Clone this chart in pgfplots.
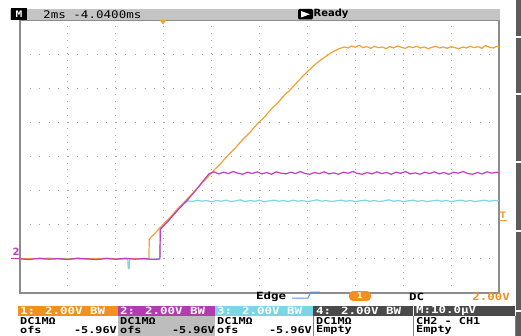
\documentclass[border=0pt]{standalone}
\usepackage{fontspec}
\usepackage{pgfplots}
\pgfplotsset{compat=1.18}
\setmainfont{DejaVu Sans}
\newfontfamily\scopeB[FakeStretch=1.25]{DejaVu Sans Mono}
\newfontfamily\scopeT[FakeStretch=1.2]{DejaVu Sans Mono}
\definecolor{orangeT}{HTML}{F5A035}
\definecolor{purpleT}{HTML}{C040C0}
\definecolor{cyanT}{HTML}{80D4E4}
\definecolor{boxA}{HTML}{F0901E}
\definecolor{boxB}{HTML}{B03CB0}
\definecolor{boxC}{HTML}{7AD6E6}
\definecolor{boxD}{HTML}{4A4A4A}
\definecolor{bargray}{HTML}{C4C4C4}
\definecolor{colgray}{HTML}{BDBDBD}
\definecolor{framegray}{HTML}{8C8C8C}
\definecolor{gridgray}{HTML}{A8A8A8}
\begin{document}
\begin{tikzpicture}
\useasboundingbox (-20bp,-43bp) rectangle (501bp,293bp);
\fill[white] (-20bp,-43bp) rectangle (501bp,293bp);
\begin{axis}[at={(0,0)}, anchor=south west, scale only axis,
  width=479bp, height=273bp,
  xmin=0, xmax=10, ymin=0, ymax=8,
  xtick={0,...,10}, ytick={0,...,8},
  xticklabels={}, yticklabels={},
  tick style={draw=none}, major tick length=0pt,
  grid=major,
  x grid style={draw=gridgray, line width=0.9bp, dash pattern=on 0.9bp off 5.92bp},
  y grid style={draw=gridgray, line width=0.9bp, dash pattern=on 0.9bp off 8.68bp},
  axis line style={draw=framegray, line width=1.2bp}]
% CH3 cyan
\addplot[cyanT, line width=1.2bp, no marks] coordinates {
(0,1.00) (0.3,1.01) (0.6,0.99) (0.9,1.01) (1.2,1.00) (1.5,0.99) (1.8,1.01) (2.1,1.00) (2.25,1.00)
(2.26,0.72) (2.28,0.72) (2.29,1.00) (2.5,1.00) (2.7,0.99) (2.92,1.00)
(2.93,1.87) (3.1,2.12) (3.3,2.44) (3.42,2.62) (3.52,2.70)
(3.6,2.68) (3.7,2.72) (3.8,2.69) (3.9,2.71) (4.0,2.67) (4.1,2.71) (4.2,2.69) (4.3,2.72) (4.4,2.68)
(4.5,2.70) (4.6,2.73) (4.7,2.68) (4.8,2.71) (4.9,2.69) (5.0,2.72) (5.1,2.67) (5.2,2.70) (5.3,2.72)
(5.4,2.69) (5.5,2.71) (5.6,2.68) (5.7,2.72) (5.8,2.69) (5.9,2.71) (6.0,2.68) (6.1,2.70) (6.2,2.73)
(6.3,2.69) (6.4,2.71) (6.5,2.68) (6.6,2.70) (6.7,2.72) (6.8,2.69) (6.9,2.71) (7.0,2.68) (7.1,2.70)
(7.2,2.72) (7.3,2.69) (7.4,2.71) (7.5,2.68) (7.6,2.70) (7.7,2.73) (7.8,2.69) (7.9,2.71) (8.0,2.68)
(8.1,2.70) (8.2,2.72) (8.3,2.69) (8.4,2.71) (8.5,2.68) (8.6,2.70) (8.7,2.72) (8.8,2.69) (8.9,2.71)
(9.0,2.68) (9.1,2.70) (9.2,2.72) (9.3,2.69) (9.4,2.71) (9.5,2.68) (9.6,2.70) (9.7,2.72) (9.8,2.69)
(9.9,2.71) (10,2.70)};
% CH1 orange
\addplot[orangeT, line width=1.2bp, no marks] coordinates {
(0,1.01) (0.3,1.00) (0.6,1.02) (0.9,0.99) (1.2,1.01) (1.5,1.00) (1.8,1.02) (2.1,0.99) (2.4,1.01) (2.69,1.00)
(2.70,1.58) (2.85,1.80) (3.0,2.03) (3.15,2.24) (3.3,2.49) (3.45,2.70) (3.61,2.93) (3.75,3.15)
(3.9,3.36) (4.05,3.60) (4.2,3.81) (4.35,4.05) (4.5,4.26) (4.65,4.50) (4.8,4.71) (4.95,4.95)
(5.1,5.15) (5.25,5.40) (5.4,5.60) (5.52,5.80) (5.64,5.95) (5.8,6.20) (5.95,6.42) (6.1,6.62)
(6.25,6.80) (6.4,6.95) (6.53,7.07) (6.65,7.15) (6.77,7.21)
(6.85,7.18) (6.92,7.24) (7.0,7.20) (7.08,7.26) (7.16,7.19) (7.24,7.22) (7.32,7.17) (7.40,7.23)
(7.48,7.19) (7.56,7.21) (7.64,7.16) (7.72,7.22) (7.80,7.18) (7.88,7.24) (7.96,7.20) (8.04,7.17)
(8.12,7.22) (8.20,7.19) (8.28,7.23) (8.36,7.18) (8.44,7.21) (8.52,7.16) (8.60,7.20) (8.68,7.23)
(8.76,7.18) (8.84,7.21) (8.92,7.17) (9.00,7.22) (9.08,7.19) (9.16,7.16) (9.24,7.21) (9.32,7.18)
(9.40,7.23) (9.48,7.19) (9.56,7.22) (9.64,7.17) (9.72,7.25) (9.80,7.20) (9.88,7.18) (9.96,7.23) (10,7.21)};
% CH2 purple
\addplot[purpleT, line width=1.2bp, no marks] coordinates {
(0,1.00) (0.2,0.98) (0.4,1.02) (0.6,0.99) (0.8,1.01) (1.0,0.98) (1.2,1.02) (1.4,1.00) (1.6,0.98)
(1.8,1.01) (2.0,0.99) (2.2,1.02) (2.4,0.99) (2.6,1.01) (2.8,0.98) (2.92,1.00)
(2.93,1.87) (3.1,2.12) (3.3,2.44) (3.5,2.73) (3.7,3.06) (3.82,3.28) (3.95,3.50)
(4.05,3.55) (4.15,3.49) (4.25,3.54) (4.35,3.50) (4.45,3.56) (4.55,3.51) (4.65,3.48) (4.75,3.54)
(4.85,3.50) (4.95,3.55) (5.05,3.49) (5.15,3.53) (5.25,3.48) (5.35,3.55) (5.45,3.51) (5.55,3.49)
(5.65,3.54) (5.75,3.50) (5.85,3.56) (5.95,3.50) (6.05,3.48) (6.15,3.53) (6.25,3.50) (6.35,3.55)
(6.45,3.49) (6.55,3.52) (6.65,3.48) (6.75,3.54) (6.85,3.51) (6.95,3.56) (7.05,3.50) (7.15,3.48)
(7.25,3.53) (7.35,3.49) (7.45,3.55) (7.55,3.50) (7.65,3.53) (7.75,3.48) (7.85,3.54) (7.95,3.51)
(8.05,3.56) (8.15,3.49) (8.25,3.52) (8.35,3.48) (8.45,3.54) (8.55,3.50) (8.65,3.55) (8.75,3.49)
(8.85,3.53) (8.95,3.48) (9.05,3.54) (9.15,3.51) (9.25,3.56) (9.35,3.50) (9.45,3.48) (9.55,3.53)
(9.65,3.49) (9.75,3.55) (9.85,3.51) (9.95,3.54) (10,3.52)};
\end{axis}
\begin{scope}[x=1bp,y=1bp]
% top status bar
\fill[bargray] (-10,273) rectangle (480,284);
\fill[black] (-9,273) rectangle (7,285);
\node[text=white, inner sep=0, font=\scopeB\bfseries\fontsize{9}{9}\selectfont] at (-1,279) {M};
\node[anchor=west, inner sep=0, font=\scopeT\fontsize{10.5}{10.5}\selectfont] at (23,278.5) {2ms -4.0400ms};
\fill[black, rounded corners=1.5] (278,273.5) rectangle (293,284);
\fill[white] (281,275.5) -- (281,282) -- (290,278.75) -- cycle;
\node[anchor=west, inner sep=0, font=\bfseries\fontsize{10}{10}\selectfont] at (293.5,278.8) {Ready};
% trigger position marker
\fill[orangeT] (139.5,273) -- (146.5,273) -- (143,268.5) -- cycle;
% ground marker 2
\node[text=purpleT, inner sep=0, font=\bfseries\fontsize{10}{10}\selectfont] at (-4,41) {2};
\draw[purpleT, line width=1bp] (-9,34.5) -- (0,34.5);
% trigger level marker
\node[text=orangeT, inner sep=0, font=\bfseries\fontsize{9}{9}\selectfont] at (483,78) {T};
\draw[orangeT, line width=1bp] (479.5,72) -- (486.5,72);
% right side strip
\fill[boxD!90] (496,-43) rectangle (501,293);
\foreach \yy in {255,198,130,61,-19}{\fill[white] (496,\yy) rectangle (501,\yy+2);}
% trigger info line
\node[anchor=west, inner sep=0, font=\scopeB\bfseries\fontsize{10}{10}\selectfont] at (236,-3.5) {Edge};
\draw[cyanT!70!blue, line width=1bp] (272,-5) -- (288,-5) -- (291,1) -- (300,1);
\fill[boxA, rounded corners=4] (329,-8) rectangle (351,2);
\node[text=white, inner sep=0, font=\bfseries\fontsize{8}{8}\selectfont] at (340,-3) {1};
\node[anchor=west, inner sep=0, font=\scopeB\bfseries\fontsize{10}{10}\selectfont] at (389,-3.5) {DC};
\node[anchor=east, inner sep=0, text=boxA, font=\scopeB\bfseries\fontsize{10}{10}\selectfont] at (490,-3.5) {2.00V};
% channel boxes
\fill[boxA] (-2,-23) rectangle (98,-13);
\fill[boxB] (98,-23) rectangle (195,-13);
\fill[boxC] (195,-23) rectangle (293,-13);
\fill[boxD] (293,-23) rectangle (392.5,-13);
\fill[boxD] (393.5,-23) rectangle (495,-13);
\fill[colgray] (98,-23) rectangle (195,-43);
\foreach \xx in {293,393,495}{\draw[gray, line width=0.8bp] (\xx,-23) -- (\xx,-43);}
\tikzset{hd/.style={anchor=west, inner sep=0, text=white, font=\scopeB\bfseries\fontsize{10}{10}\selectfont},
         rw/.style={anchor=west, inner sep=0, text=black, font=\scopeB\bfseries\fontsize{9.5}{9.5}\selectfont},
         rr/.style={anchor=east, inner sep=0, text=black, font=\scopeB\bfseries\fontsize{9.5}{9.5}\selectfont}}
\node[hd] at (0,-18) {1: 2.00V BW};
\node[hd] at (100,-18) {2: 2.00V BW};
\node[hd] at (197,-18) {3: 2.00V BW};
\node[hd] at (296,-18) {4: 2.00V BW};
\node[hd] at (396,-18) {M:10.0μV};
\node[rw] at (0,-28) {DC1MΩ};
\node[rw] at (100,-28) {DC1MΩ};
\node[rw] at (197,-28) {DC1MΩ};
\node[rw] at (296,-28) {DC1MΩ};
\node[rw] at (396,-28) {CH2 - CH1};
\node[rw] at (0,-37) {ofs};
\node[rr] at (97,-37) {-5.96V};
\node[rw] at (100,-37) {ofs};
\node[rr] at (195,-37) {-5.96V};
\node[rw] at (197,-37) {ofs};
\node[rr] at (292,-37) {-5.96V};
\node[rw] at (296,-37) {Empty};
\node[rw] at (396,-37) {Empty};
\end{scope}
\end{tikzpicture}
\end{document}
